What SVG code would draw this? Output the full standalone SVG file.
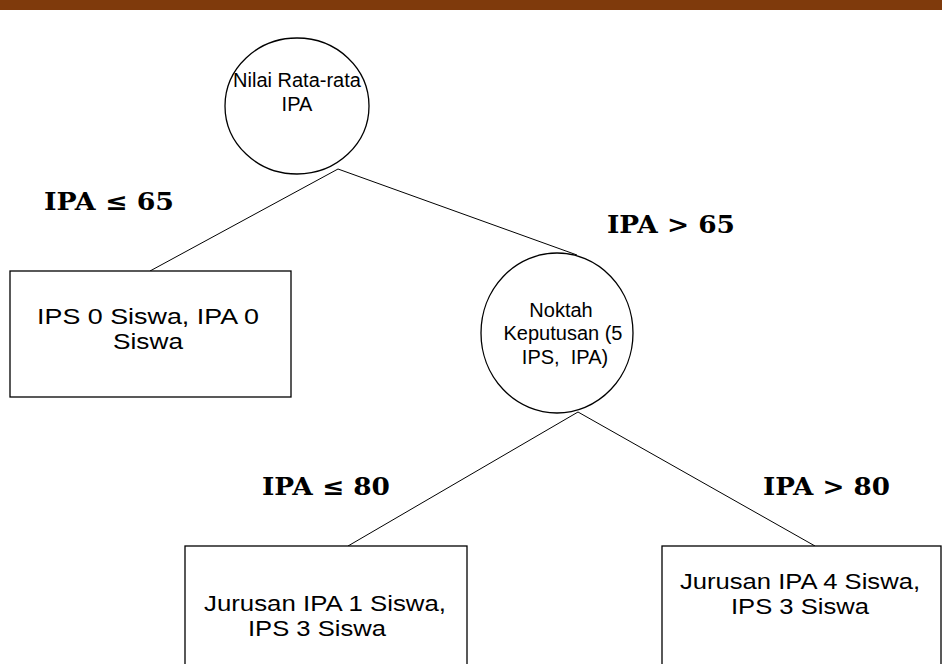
<svg xmlns="http://www.w3.org/2000/svg" width="942" height="664" viewBox="0 0 942 664">
<style>
.shape{fill:#fff;stroke:#000;stroke-width:1.3}
.conn line{stroke:#000;stroke-width:1}
.t{font-family:"Liberation Sans",Arial,sans-serif;fill:#000;text-anchor:middle}
.c{font-size:20px}
.b{font-size:22px}
.lbl{font-family:"DejaVu Serif","Liberation Serif",serif;font-weight:bold;font-size:24px;fill:#000}
</style>
<rect x="0" y="0" width="942" height="10" fill="#7F3A0C"/>
<g id="connectors" class="conn">
<line x1="338" y1="169" x2="150" y2="271"/>
<line x1="338" y1="169" x2="577" y2="255"/>
<line x1="578" y1="412" x2="348" y2="546"/>
<line x1="578" y1="412" x2="815" y2="546"/>
</g>
<g id="root">
<ellipse class="shape" cx="297" cy="106" rx="72" ry="68"/>
<text class="t c" x="297" y="87">Nilai Rata-rata</text>
<text class="t c" x="297" y="111">IPA</text>
</g>
<g id="leaf-left">
<rect class="shape" x="10" y="271" width="281" height="126"/>
<text class="t b" x="148" y="324" textLength="222" lengthAdjust="spacingAndGlyphs">IPS 0 Siswa, IPA 0</text>
<text class="t b" x="148" y="349" textLength="70" lengthAdjust="spacingAndGlyphs">Siswa</text>
</g>
<g id="decision">
<ellipse class="shape" cx="557" cy="333" rx="76" ry="80"/>
<text class="t c" x="561" y="317">Noktah</text>
<text class="t c" x="563" y="340">Keputusan (5</text>
<text class="t c" x="565" y="364">IPS,&#160; IPA)</text>
</g>
<g id="leaf-mid">
<rect class="shape" x="185" y="546" width="282" height="130"/>
<text class="t b" x="325" y="611" textLength="242" lengthAdjust="spacingAndGlyphs">Jurusan IPA 1 Siswa,</text>
<text class="t b" x="317" y="636" textLength="138" lengthAdjust="spacingAndGlyphs">IPS 3 Siswa</text>
</g>
<g id="leaf-right">
<rect class="shape" x="662" y="546" width="279" height="130"/>
<text class="t b" x="800" y="589" textLength="240" lengthAdjust="spacingAndGlyphs">Jurusan IPA 4 Siswa,</text>
<text class="t b" x="800" y="614" textLength="138" lengthAdjust="spacingAndGlyphs">IPS 3 Siswa</text>
</g>
<g id="labels">
<text class="lbl" x="44" y="210" textLength="130" lengthAdjust="spacingAndGlyphs">IPA ≤ 65</text>
<text class="lbl" x="607" y="233" textLength="128" lengthAdjust="spacingAndGlyphs">IPA &gt; 65</text>
<text class="lbl" x="262" y="495" textLength="128" lengthAdjust="spacingAndGlyphs">IPA ≤ 80</text>
<text class="lbl" x="763" y="495" textLength="127" lengthAdjust="spacingAndGlyphs">IPA &gt; 80</text>
</g>
</svg>
